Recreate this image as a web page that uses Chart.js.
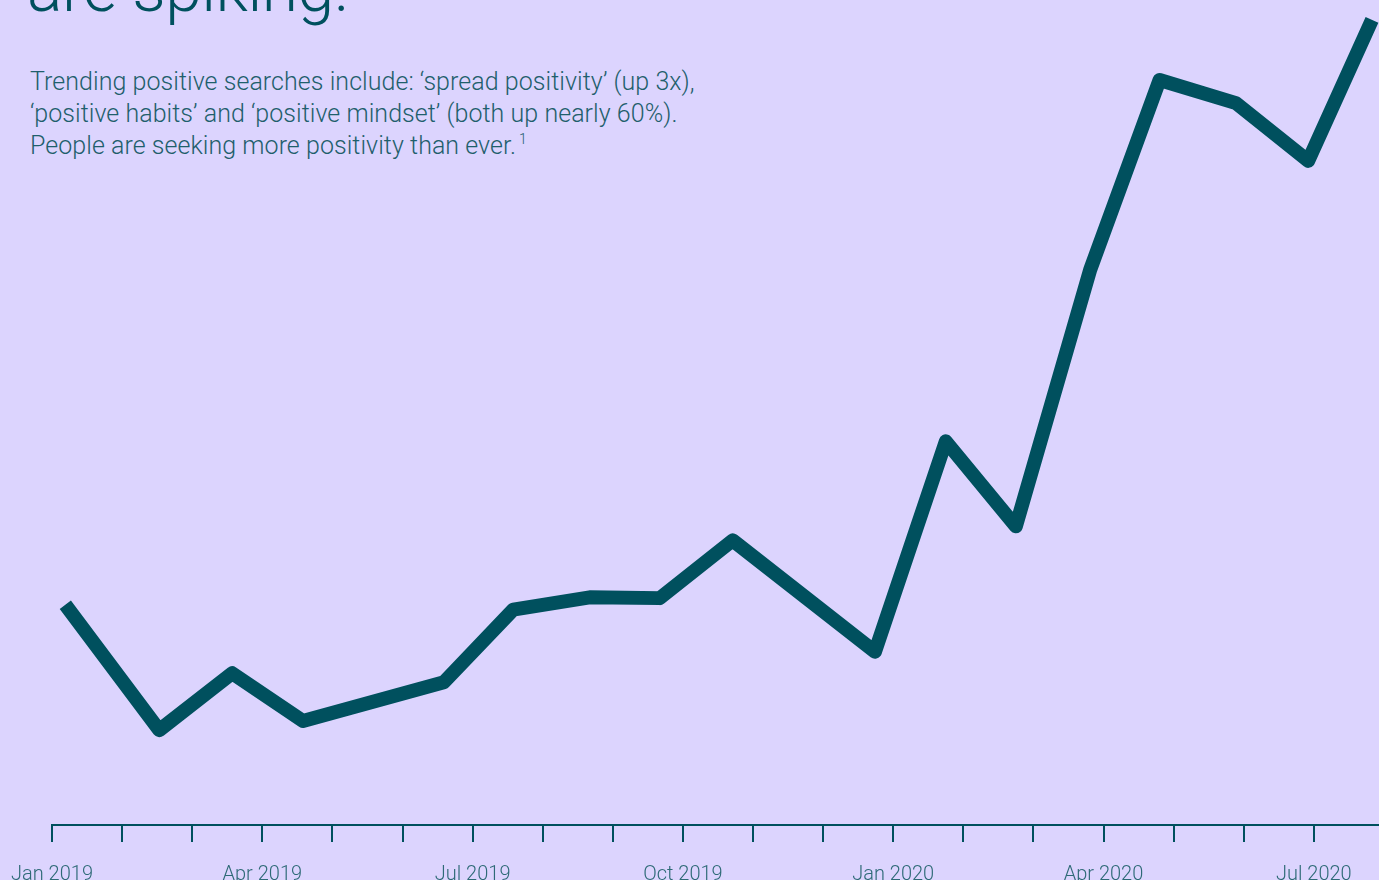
<!DOCTYPE html>
<html>
<head>
<meta charset="utf-8">
<script src="https://cdn.jsdelivr.net/npm/chart.js@4.4.0/dist/chart.umd.min.js"></script>
<style>
html, body { margin: 0; padding: 0; background: #dcd4fe; overflow: hidden; width: 1379px; height: 880px; }
#title { position: absolute; left: 27px; top: -50px; font: 300 66px Roboto, sans-serif; color: #00505e; letter-spacing: -0.5px; white-space: nowrap; }
#sub { position: absolute; left: 30px; top: 66px; font: 300 25px/32px Roboto, sans-serif; color: #1f5f6c; letter-spacing: 0.05px; white-space: nowrap; }
#sub sup { font-size: 14px; vertical-align: 10px; line-height: 0; margin-left: 3px; }
#wrap { position: absolute; left: 0; top: 0; width: 1379px; height: 886px; }
</style>
</head>
<body>
<div id="title">are spiking.</div>
<div id="sub">Trending positive searches include: ‘spread positivity’ (up 3x),<br>‘positive habits’ and ‘positive mindset’ (both up nearly 60%).<br>People are seeking more positivity than ever.<sup>1</sup></div>
<div id="wrap"><canvas id="chart"></canvas></div>
<script>
// months since Jan 2019 for each data point
var monthPos = [0.19, 1.53, 2.57, 3.58, 5.59, 6.58, 7.67, 8.67, 9.71, 11.74, 12.75, 13.75, 14.81, 15.80, 16.89, 17.92, 18.83];
// relative search interest
var interest = [26.7, 11.5, 18.4, 12.6, 17.3, 26.1, 27.6, 27.5, 34.5, 21.0, 46.5, 36.2, 67.3, 90.3, 87.5, 80.5, 97.6];
// one label every three months
var tickLabels = ['Jan 2019', 'Apr 2019', 'Jul 2019', 'Oct 2019', 'Jan 2020', 'Apr 2020', 'Jul 2020'];

var teal = '#00505e';

var points = monthPos.map((m, i) => ({ x: m, y: interest[i] }));

new Chart(document.getElementById('chart'), {
    type: 'line',
    data: {
        datasets: [{
            data: points,
            borderColor: teal,
            borderWidth: 14,
            borderJoinStyle: 'round',
            borderCapStyle: 'butt',
            pointRadius: 0,
            tension: 0,
            clip: false
        }]
    },
    options: {
        responsive: true,
        maintainAspectRatio: false,
        animation: false,
        layout: { padding: 0 },
        plugins: { legend: { display: false }, tooltip: { enabled: false } },
        scales: {
            x: {
                type: 'linear',
                min: 0,
                max: 18.93,
                afterFit: function(scale) {
                    scale.height = 61;
                    scale.paddingLeft = 0;
                    scale.paddingRight = 0;
                },
                border: { display: true, color: teal, width: 2 },
                grid: { drawOnChartArea: false, drawTicks: true, tickLength: 17, color: teal, lineWidth: 2 },
                ticks: {
                    stepSize: 1,
                    autoSkip: false,
                    maxRotation: 0,
                    includeBounds: false,
                    padding: 21,
                    color: '#2e6a77',
                    font: { family: 'Roboto', weight: '300', size: 20 },
                    callback: function(v) { return v % 3 === 0 ? tickLabels[v / 3] : ''; }
                }
            },
            y: {
                display: true,
                min: 0,
                max: 100,
                afterFit: function(scale) { scale.width = 52; },
                border: { display: false },
                grid: { display: false },
                ticks: { display: false }
            }
        }
    }
});
</script>
</body>
</html>
